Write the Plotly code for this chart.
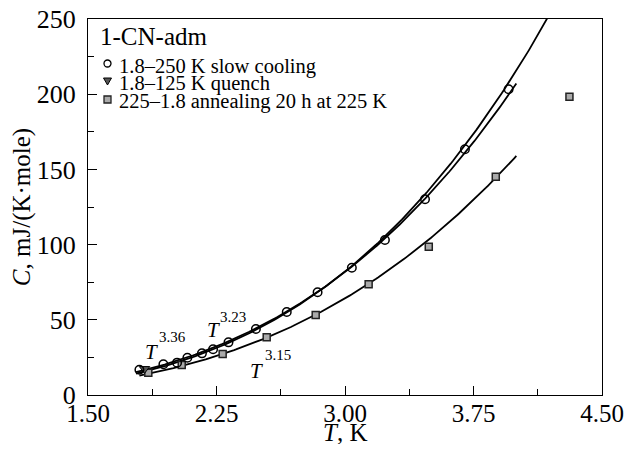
import numpy as np
import plotly.graph_objects as go

# ---- data ----
slow_T = [1.80, 1.94, 2.02, 2.08, 2.165, 2.23, 2.32, 2.48, 2.66, 2.84, 3.04, 3.233, 3.467, 3.70, 3.955]
slow_C = [16.8, 20.4, 21.5, 24.8, 27.7, 30.4, 35.0, 43.9, 55.2, 68.3, 84.6, 103.1, 130.1, 163.4, 203.3]

quench_T = [1.83]
quench_C = [17.4]

anneal_T = [1.852, 2.047, 2.286, 2.543, 2.829, 3.138, 3.489, 3.88, 4.31]
anneal_C = [14.8, 19.9, 27.3, 38.4, 53.2, 73.6, 98.6, 145.1, 198.3]

# power-law fits C = a * T^n
fit_n = [3.36, 3.23, 3.15]
fit_a = [2.046, 2.352, 2.017]
fit_Tmin = [1.78, 1.78, 1.80]
fit_Tmax = [4.25, 4.00, 4.00]

x_ticks = [1.50, 2.25, 3.00, 3.75, 4.50]
y_ticks = [0, 50, 100, 150, 200, 250]

legend_names = ["1.8\u2013250 K slow cooling", "1.8\u2013125 K quench", "225\u20131.8 annealing 20 h at 225 K"]
sample_name = "1-CN-adm"
x_title = "<i>T</i>, K"
y_title = "<i>C</i>, mJ/(K\u00b7mole)"

FONT = "Liberation Serif"

fig = go.Figure()
for n, a, t0, t1 in zip(fit_n, fit_a, fit_Tmin, fit_Tmax):
    T = np.linspace(t0, t1, 200)
    fig.add_trace(go.Scatter(x=T, y=a * T ** n, mode="lines",
                             line=dict(color="black", width=1.8),
                             showlegend=False, hoverinfo="skip"))

fig.add_trace(go.Scatter(x=anneal_T, y=anneal_C, mode="markers", name=legend_names[2],
                         marker=dict(symbol="square", size=7, color="#aaaaaa",
                                     line=dict(color="#222222", width=1.5)),
                         showlegend=False))
fig.add_trace(go.Scatter(x=quench_T, y=quench_C, mode="markers", name=legend_names[1],
                         marker=dict(symbol="triangle-down", size=9, color="#555555",
                                     line=dict(color="black", width=1)),
                         showlegend=False))
fig.add_trace(go.Scatter(x=slow_T, y=slow_C, mode="markers", name=legend_names[0],
                         marker=dict(symbol="circle-open", size=8.5, color="black",
                                     line=dict(color="black", width=1.5)),
                         showlegend=False))

# page body has an 8px margin; figure is sized so that the plot lands where the reference has it
OFF = 8
FIG_W, FIG_H = 636 - 2 * OFF, 452 - 2 * OFF
L, R, TOP, BOT = 88, 602, 19, 395          # plot area in page pixels
W, H = R - L, BOT - TOP
def px(xp): return (xp - L) / W
def py(yp): return (BOT - yp) / H

annotations = [
    dict(text=sample_name, xref="paper", yref="paper", x=px(98), y=py(37),
         xanchor="left", yanchor="middle", showarrow=False,
         font=dict(family=FONT, size=25, color="black")),
    dict(text=x_title, xref="paper", yref="paper", x=px(345), y=py(432.5),
         xanchor="center", yanchor="middle", showarrow=False,
         font=dict(family=FONT, size=25, color="black")),
]
for i, (name, yc) in enumerate(zip(legend_names, [66, 83.5, 101])):
    annotations.append(dict(text=name, xref="paper", yref="paper", x=px(117), y=py(yc),
                            xanchor="left", yanchor="middle", showarrow=False,
                            font=dict(family=FONT, size=20.5, color="black")))

# T^n labels
labels = [("3.36", 1.821, 28.9, 1.903, 38.6),
          ("3.23", 2.183, 43.2, 2.259, 51.9),
          ("3.15", 2.434, 16.0, 2.521, 26.3)]
for sup, tx, ty, sx, sy in labels:
    annotations.append(dict(text="<i>T</i>", x=tx, y=ty, xanchor="left", yanchor="middle",
                            showarrow=False, font=dict(family=FONT, size=21, color="black")))
    annotations.append(dict(text=sup, x=sx, y=sy, xanchor="left", yanchor="middle",
                            showarrow=False, font=dict(family=FONT, size=15, color="black")))

shapes = [
    dict(type="circle", xref="paper", yref="paper", xsizemode="pixel", ysizemode="pixel",
         xanchor=px(107.5), yanchor=py(63.5), x0=-3.5, x1=3.5, y0=-3.5, y1=3.5,
         line=dict(color="black", width=1.3), fillcolor="white"),
    dict(type="path", xref="paper", yref="paper", xsizemode="pixel", ysizemode="pixel",
         xanchor=px(107.5), yanchor=py(81), path="M-4,3 L4,3 L0,-4 Z",
         line=dict(color="black", width=1), fillcolor="#555555"),
    dict(type="rect", xref="paper", yref="paper", xsizemode="pixel", ysizemode="pixel",
         xanchor=px(107.5), yanchor=py(99.5), x0=-3.5, x1=3.5, y0=-3.5, y1=3.5,
         line=dict(color="#222222", width=1.3), fillcolor="#aaaaaa"),
]

fig.update_layout(
    width=FIG_W, height=FIG_H,
    margin=dict(l=L - OFF, r=FIG_W - (R - OFF), t=TOP - OFF, b=FIG_H - (BOT - OFF)),
    paper_bgcolor="white", plot_bgcolor="white",
    font=dict(family=FONT, color="black"),
    annotations=annotations, shapes=shapes,
    showlegend=False,
)
fig.update_xaxes(range=[1.5, 4.5], tickvals=x_ticks, ticktext=[f"{v:.2f}" for v in x_ticks],
                 automargin=False, ticklabeloverflow="allow",
                 ticks="inside", ticklen=9, tickwidth=1.2, tickcolor="black",
                 minor=dict(dtick=0.375, tick0=1.5, ticks="inside", ticklen=6, tickwidth=1.2, tickcolor="black"),
                 showline=True, linecolor="black", linewidth=1.3, mirror=True,
                 showgrid=False, zeroline=False, tickfont=dict(size=25), ticklabelstandoff=-4)
fig.update_yaxes(range=[0, 250], tickvals=y_ticks, automargin=False, ticklabeloverflow="allow",
                 ticks="inside", ticklen=9, tickwidth=1.2, tickcolor="black",
                 minor=dict(dtick=25, tick0=0, ticks="inside", ticklen=6, tickwidth=1.2, tickcolor="black"),
                 showline=True, linecolor="black", linewidth=1.3, mirror=True,
                 showgrid=False, zeroline=False, tickfont=dict(size=26), ticklabelstandoff=6,
                 title=dict(text=y_title, font=dict(size=25), standoff=0))

fig.write_html("out.html")
